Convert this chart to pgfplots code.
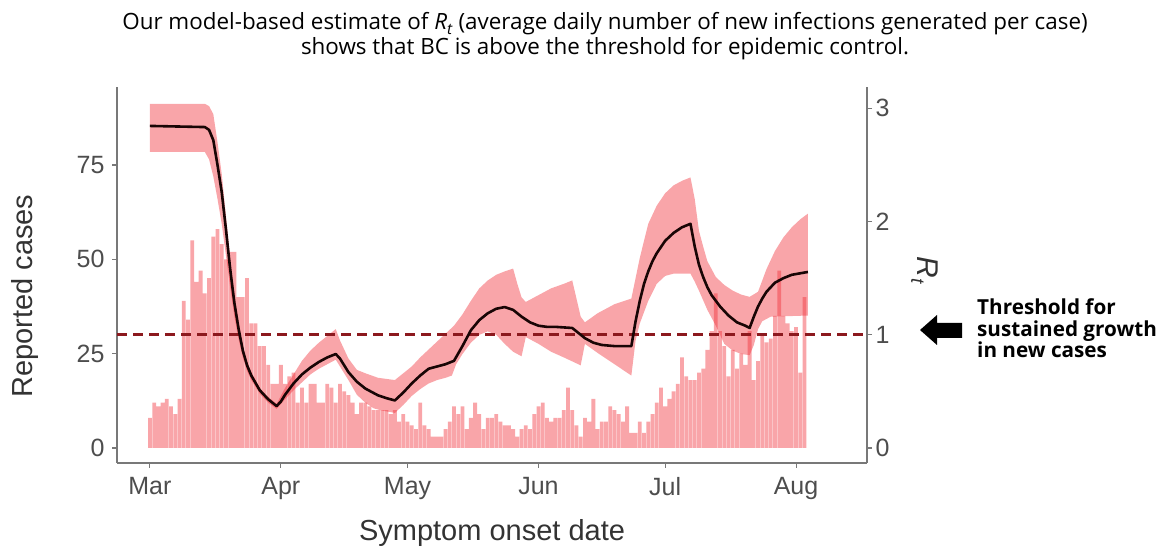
\documentclass[border=0pt]{standalone}
\usepackage{fontspec}
\setmainfont{Liberation Sans}
\newfontfamily\opensans{Open Sans}
\usepackage{pgfplots}
\pgfplotsset{compat=1.18}
\usepgfplotslibrary{fillbetween}
\definecolor{barred}{RGB}{240,40,50}
\definecolor{dashred}{RGB}{140,25,30}
\definecolor{tickgray}{RGB}{77,77,77}
\definecolor{spinegray}{RGB}{120,120,120}
\definecolor{linecol}{RGB}{25,5,5}

\begin{document}
\begin{tikzpicture}[x=1pt,y=1pt]
\begin{axis}[
  at={(117pt,85pt)}, anchor=south west,
  scale only axis, width=750pt, height=376pt,
  xmin=-7.8, xmax=169.8,
  ymin=-3.98, ymax=95.68,
  axis x line*=bottom, axis y line*=left,
  axis line style={spinegray, line width=1.4pt},
  xtick={0,31,61,92,122,153},
  xticklabels={Mar,Apr,May,Jun,Jul,Aug},
  ytick={0,25,50,75},
  tick align=outside,
  major tick length=5pt,
  tick style={spinegray, line width=1.1pt},
  ticklabel style={font=\fontsize{25}{25}\selectfont, text=tickgray},
  xticklabel style={yshift=-6pt},
  yticklabel style={xshift=-4pt},
  /pgf/number format/assume math mode=true,
  xlabel={Symptom onset date},
  ylabel={Reported cases},
  label style={font=\fontsize{29}{29}\selectfont, text=black!80},
  xlabel style={at={(axis description cs:0.5,-0.207)}, anchor=base},
  ylabel style={at={(axis description cs:-0.112,0.444)}, anchor=base, rotate=0},
]
\addplot[ybar, bar width=0.9, fill=barred, fill opacity=0.42, draw=none] table {
d c
0 8
1 12
2 11
3 12
4 13
5 11
6 9
7 13
8 39
9 34
10 55
11 44
12 47
13 41
14 45
15 56
16 58
17 54
18 50
19 52
20 52
21 40
22 40
23 45
24 33
25 33
26 27
27 27
28 22
29 17
30 17
31 22
32 17
33 19
34 20
35 12
36 16
37 12
38 17
39 17
40 12
41 12
42 17
43 16
44 12
45 17
46 15
47 14
48 12
49 9
50 12
51 12
52 11
53 10
54 10
55 10
56 10
57 9
58 10
59 7
60 9
61 7
62 6
63 5
64 12
65 6
66 5
67 3
68 3
69 3
70 5
71 7
72 11
73 9
74 11
75 5
76 8
77 12
78 9
79 5
80 8
81 8
82 9
83 7
84 6
85 6
86 5
87 3
88 5
89 6
90 5
91 9
92 11
93 12
94 8
95 7
96 8
97 8
98 10
99 16
100 10
101 6
102 3
103 8
104 7
105 13
106 5
107 7
108 7
109 11
110 10
111 9
112 7
113 11
114 4
115 4
116 7
117 4
118 7
119 9
120 12
121 16
122 11
123 13
124 15
125 17
126 24
127 19
128 18
129 18
130 20
131 21
132 26
133 31
134 41
135 31
136 27
137 19
138 26
139 21
140 25
141 22
142 31
143 18
144 23
145 30
146 28
147 29
148 35
149 47
150 35
151 33
152 31
153 32
154 20
155 40
};
\end{axis}

\begin{axis}[
  at={(117pt,85pt)}, anchor=south west,
  scale only axis, width=750pt, height=376pt,
  xmin=-7.8, xmax=169.8,
  ymin=-0.1327, ymax=3.189,
  axis x line=none, axis y line*=right,
  axis line style={spinegray, line width=1.4pt},
  ytick={0,1,2,3},
  tick align=outside,
  major tick length=5pt,
  tick style={spinegray, line width=1.1pt},
  ticklabel style={font=\fontsize{25}{25}\selectfont, text=tickgray},
  /pgf/number format/assume math mode=true,
]
\addplot[name path=up, draw=none] table {
d r
0 3.04
13 3.04
14 3.02
15 2.95
16 2.70
17 2.42
18 2.05
19 1.68
20 1.36
21 1.11
22 0.90
23 0.76
24 0.67
26 0.53
28 0.45
30 0.39
32 0.53
34 0.65
36 0.77
38 0.86
40 0.93
42 0.99
44 1.05
45 0.95
47 0.79
49 0.69
51 0.66
54 0.62
58 0.60
60 0.66
62 0.72
64 0.80
66 0.87
68 0.94
70 1.01
72 1.08
74 1.18
76 1.30
78 1.41
80 1.48
82 1.53
84 1.56
86 1.585
87 1.45
88 1.33
89 1.29
92 1.35
95 1.41
98 1.45
100 1.48
101 1.32
102 1.16
103 1.11
106 1.19
110 1.27
114 1.32
115 1.50
116 1.68
118 1.98
120 2.14
122 2.25
124 2.32
126 2.36
128 2.39
129 2.20
130 1.92
131 1.78
132 1.65
134 1.51
136 1.44
138 1.39
140 1.355
142 1.335
144 1.38
146 1.58
148 1.74
150 1.86
152 1.95
154 2.02
155.8 2.07
};
\addplot[name path=lo, draw=none] table {
d r
0 2.615
13 2.615
14 2.55
15 2.40
16 2.20
17 1.98
18 1.70
19 1.42
20 1.16
21 0.96
22 0.80
23 0.68
24 0.60
26 0.48
28 0.40
30 0.345
32 0.43
34 0.51
36 0.58
38 0.65
40 0.70
42 0.74
44 0.78
45 0.72
47 0.60
49 0.47
51 0.40
53 0.35
55 0.33
58 0.31
60 0.38
62 0.46
64 0.52
66 0.57
68 0.60
70 0.62
71.5 0.64
72.5 0.74
74 0.83
76 0.93
78 1.00
80 1.03
82 1.00
84 0.92
86 0.85
88 0.81
89 0.98
92 0.92
95 0.85
98 0.80
102 0.73
103 0.92
106 0.84
110 0.74
114 0.64
115 0.95
116 1.10
118 1.30
120 1.45
122 1.52
124 1.54
128 1.54
129 1.47
130 1.39
132 1.22
134 1.08
136 0.92
138 0.86
140 0.83
142 0.82
143 0.91
144 1.05
145 1.12
147 1.16
155.8 1.17
};
\addplot[fill=barred, fill opacity=0.42, draw=none] fill between[of=up and lo];
\addplot[dashred, line width=2.6pt, dash pattern=on 10pt off 6pt] coordinates {(-7.8,1) (169.8,1)};
\addplot[linecol, line width=2.6pt, line join=round] table {
d r
0 2.845
13 2.835
14 2.81
15 2.72
16 2.50
17 2.26
18 1.93
19 1.58
20 1.28
21 1.05
22 0.86
23 0.73
24 0.64
26 0.51
28 0.43
30 0.37
31 0.41
32 0.47
34 0.57
36 0.65
38 0.71
40 0.76
42 0.80
44 0.83
45 0.79
47 0.67
49 0.585
51 0.525
54 0.465
56 0.44
58 0.42
60 0.49
62 0.57
64 0.64
66 0.70
68 0.72
70 0.74
72 0.77
74 0.90
76 1.04
78 1.13
80 1.19
82 1.23
84 1.245
86 1.22
88 1.16
90 1.11
92 1.08
94 1.07
96 1.07
100 1.06
101 1.03
103 0.97
105 0.93
107 0.91
110 0.90
114 0.90
115 1.12
116 1.30
117 1.45
118 1.56
119 1.65
120 1.72
122 1.83
124 1.90
126 1.95
128 1.98
129 1.78
130 1.62
131 1.51
132 1.42
133 1.35
135 1.25
137 1.17
139 1.11
141 1.08
142 1.06
143 1.16
144 1.25
145 1.32
146 1.38
148 1.46
150 1.50
152 1.53
155.8 1.555
};
\end{axis}

% right axis title
\node[rotate=-90, anchor=base, inner sep=0pt, font=\fontsize{30}{30}\selectfont, text=black!80] at (917,278) {\itshape R\raisebox{-0.35ex}{\fontsize{19}{19}\selectfont t}};

% title
\node[font=\opensans\fontsize{22.4}{22.4}\selectfont, anchor=base] at (605,518) {Our model-based estimate of \textit{R}\raisebox{-0.35ex}{\fontsize{15.5}{15.5}\selectfont\textit{t}} (average daily number of new infections generated per case)};
\node[font=\opensans\fontsize{22.4}{22.4}\selectfont, anchor=base] at (605,493) {shows that BC is above the threshold for epidemic control.};

% annotation arrow and text
\fill[black] (920,218) -- (937,233) -- (937,225) -- (962,225) -- (962,210) -- (937,210) -- (937,203) -- cycle;
\node[font=\opensans\bfseries\fontsize{20.7}{20.7}\selectfont, anchor=base west, inner sep=0pt] at (977,233) {Threshold for};
\node[font=\opensans\bfseries\fontsize{20.7}{20.7}\selectfont, anchor=base west, inner sep=0pt] at (977,211) {sustained growth};
\node[font=\opensans\bfseries\fontsize{20.7}{20.7}\selectfont, anchor=base west, inner sep=0pt] at (977,190) {in new cases};
\pgfresetboundingbox
\path[use as bounding box] (0,0) rectangle (1163,548);
\end{tikzpicture}
\end{document}
